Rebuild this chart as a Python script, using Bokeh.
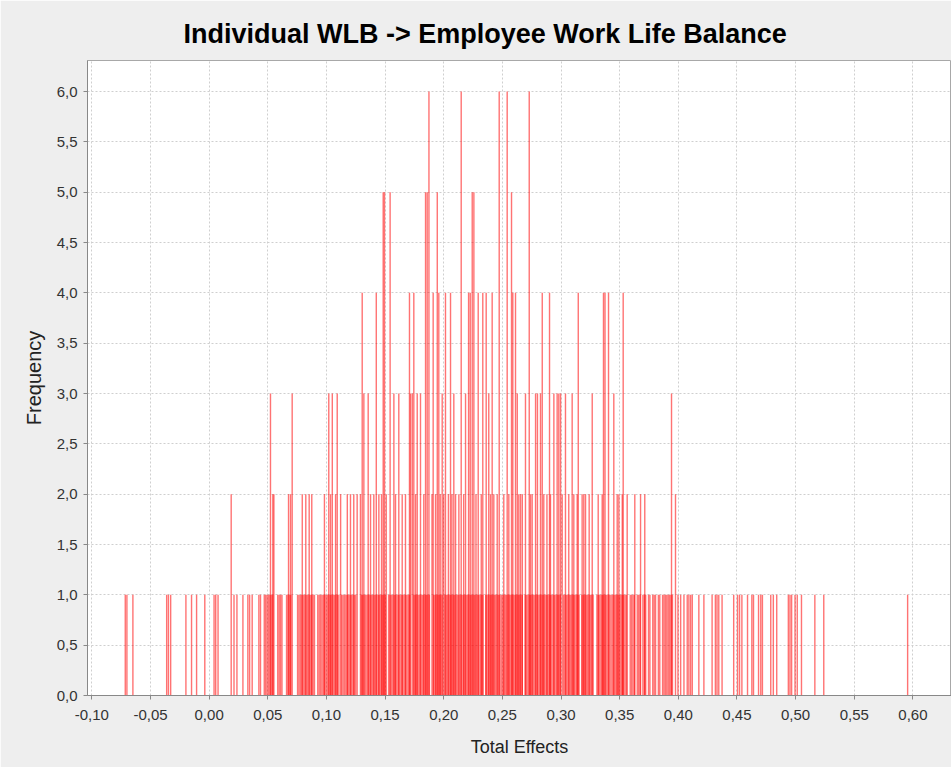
from bokeh.plotting import figure
from bokeh.models import FixedTicker, Range1d, ColumnDataSource
from bokeh.embed import file_html
from bokeh.resources import INLINE

# ---- data ----
title_text = "Individual WLB -> Employee Work Life Balance"
x_label = "Total Effects"
y_label = "Frequency"

x_ticks = [-0.10, -0.05, 0.00, 0.05, 0.10, 0.15, 0.20, 0.25, 0.30, 0.35, 0.40, 0.45, 0.50, 0.55, 0.60]
x_tick_labels = ["-0,10", "-0,05", "0,00", "0,05", "0,10", "0,15", "0,20", "0,25", "0,30", "0,35",
                 "0,40", "0,45", "0,50", "0,55", "0,60"]
y_ticks = [0.0, 0.5, 1.0, 1.5, 2.0, 2.5, 3.0, 3.5, 4.0, 4.5, 5.0, 5.5, 6.0]
y_tick_labels = ["0,0", "0,5", "1,0", "1,5", "2,0", "2,5", "3,0", "3,5", "4,0", "4,5", "5,0", "5,5", "6,0"]

# bin positions with frequency 1
freq1_x = [
    -0.0715, -0.0701, -0.0650, -0.0362, -0.0347, -0.0328, -0.0198, -0.0150, -0.0107, -0.0037,
    0.0042, 0.0056, 0.0076, 0.0212, 0.0237, 0.0288, 0.0330, 0.0345, 0.0367, 0.0424, 0.0438,
    0.0470, 0.0482, 0.0494, 0.0506, 0.0518, 0.0530, 0.0542,
    0.0585, 0.0597, 0.0609, 0.0621, 0.0660, 0.0672, 0.0684, 0.0696,
    0.0754, 0.0766, 0.0778, 0.0790, 0.0802, 0.0814, 0.0826, 0.0838, 0.0850, 0.0862, 0.0874, 0.0886, 0.0898,
    0.0926, 0.0938, 0.0950, 0.0962, 0.0974, 0.0986, 0.0998, 0.1010, 0.1022, 0.1034, 0.1046, 0.1058,
    0.1070, 0.1082, 0.1094, 0.1106, 0.1130, 0.1142, 0.1154, 0.1166, 0.1178, 0.1190, 0.1202, 0.1214,
    0.1226, 0.1238, 0.1250, 0.1298, 0.1310, 0.1322, 0.1334, 0.1346, 0.1358, 0.1370, 0.1382, 0.1394,
    0.1406, 0.1418, 0.1430, 0.1442, 0.1454, 0.1466, 0.1478, 0.1490, 0.1502, 0.1530, 0.1542, 0.1554,
    0.1566, 0.1578, 0.1590, 0.1602, 0.1614, 0.1626, 0.1638, 0.1650, 0.1662, 0.1674, 0.1686, 0.1698,
    0.1710, 0.1746, 0.1758, 0.1770, 0.1782, 0.1794, 0.1806, 0.1818, 0.1830, 0.1842, 0.1854, 0.1866,
    0.1878, 0.1914, 0.1926, 0.1938, 0.1950, 0.1962, 0.1974, 0.1986, 0.2010, 0.2022, 0.2034, 0.2046,
    0.2058, 0.2070, 0.2082, 0.2094, 0.2106, 0.2118, 0.2130, 0.2142, 0.2154, 0.2166, 0.2178, 0.2190,
    0.2202, 0.2214, 0.2226, 0.2238, 0.2250, 0.2262, 0.2274, 0.2286, 0.2298, 0.2310, 0.2322, 0.2334,
    0.2358, 0.2370, 0.2382, 0.2394, 0.2406, 0.2418, 0.2430, 0.2442, 0.2454, 0.2466, 0.2478, 0.2490,
    0.2502, 0.2514, 0.2526, 0.2538, 0.2550, 0.2562, 0.2574, 0.2586, 0.2598, 0.2610, 0.2622, 0.2634,
    0.2646, 0.2658, 0.2670, 0.2694, 0.2706, 0.2718, 0.2730, 0.2742, 0.2754, 0.2766, 0.2778, 0.2790,
    0.2802, 0.2814, 0.2826, 0.2838, 0.2850, 0.2862, 0.2874, 0.2886, 0.2898, 0.2910, 0.2922, 0.2934,
    0.2946, 0.2958, 0.2970, 0.2982, 0.2994, 0.3022, 0.3034, 0.3046, 0.3058, 0.3070, 0.3082, 0.3094,
    0.3106, 0.3118, 0.3130, 0.3142, 0.3154, 0.3178, 0.3190, 0.3202, 0.3214, 0.3226, 0.3238, 0.3250,
    0.3262, 0.3274, 0.3306, 0.3318, 0.3330, 0.3342, 0.3354, 0.3366, 0.3378, 0.3390, 0.3402, 0.3414,
    0.3426, 0.3438, 0.3450, 0.3462, 0.3474, 0.3486, 0.3498, 0.3510, 0.3522, 0.3534, 0.3546, 0.3558,
    0.3590, 0.3602, 0.3614, 0.3626, 0.3650, 0.3662, 0.3674, 0.3698, 0.3710, 0.3722, 0.3746, 0.3758,
    0.3782, 0.3794, 0.3806, 0.3830, 0.3842, 0.3866, 0.3878, 0.3890, 0.3902, 0.3914, 0.3926, 0.3938,
    0.3950, 0.3997, 0.4020, 0.4048, 0.4076, 0.4090, 0.4105, 0.4119, 0.4175, 0.4218, 0.4288, 0.4316,
    0.4330, 0.4345, 0.4373, 0.4472, 0.4505, 0.4522, 0.4542, 0.4590, 0.4627, 0.4641, 0.4684, 0.4703,
    0.4717, 0.4788, 0.4810, 0.4839, 0.4938, 0.4952, 0.4966, 0.4995, 0.5014, 0.5050, 0.5164, 0.5240,
    0.5955,
]
# bin positions with frequency 2
freq2_x = [
    0.0188, 0.0543, 0.0552, 0.0677, 0.0694, 0.0794, 0.0824, 0.0853, 0.0875, 0.0983, 0.1035, 0.1078,
    0.1121, 0.1178, 0.1205, 0.1233, 0.1262, 0.1290, 0.1376, 0.1404, 0.1447, 0.1470, 0.1510, 0.1589,
    0.1646, 0.1674, 0.1760, 0.1830, 0.1900, 0.1930, 0.1970, 0.2000, 0.2040, 0.2070, 0.2101, 0.2129,
    0.2170, 0.2275, 0.2320, 0.2399, 0.2427, 0.2456, 0.2512, 0.2555, 0.2640, 0.2655, 0.2670, 0.2740,
    0.2754, 0.2853, 0.2880, 0.2910, 0.3010, 0.3066, 0.3109, 0.3138, 0.3180, 0.3194, 0.3209, 0.3240,
    0.3317, 0.3351, 0.3479, 0.3493, 0.3522, 0.3564, 0.3629, 0.3678, 0.3714, 0.3976,
]
# bin positions with frequency 3
freq3_x = [
    0.0523, 0.0708, 0.1020, 0.1050, 0.1092, 0.1319, 0.1356, 0.1575, 0.1617, 0.1717, 0.1732, 0.1774,
    0.1802, 0.1987, 0.2086, 0.2186, 0.2384, 0.2627, 0.2697, 0.2783, 0.2799, 0.2825, 0.2939, 0.2967,
    0.2981, 0.2996, 0.3038, 0.3095, 0.3266, 0.3450, 0.3942,
]
# bin positions with frequency 4
freq4_x = [
    0.1305, 0.1425, 0.1708, 0.1745, 0.1910, 0.1958, 0.2015, 0.2058, 0.2212, 0.2226, 0.2294, 0.2333,
    0.2362, 0.2413, 0.2589, 0.2612, 0.2840, 0.2902, 0.3147, 0.3362, 0.3375, 0.3405, 0.3530,
]
# bin positions with frequency 5
freq5_x = [0.1484, 0.1495, 0.1543, 0.1845, 0.1859, 0.1945, 0.2243, 0.2257, 0.2578]
# bin positions with frequency 6
freq6_x = [0.1874, 0.2149, 0.2473, 0.2541, 0.2729]

bin_width = 0.0012

# ---- build source ----
xs, tops = [], []
for count, pos in [(1, freq1_x), (2, freq2_x), (3, freq3_x), (4, freq4_x), (5, freq5_x), (6, freq6_x)]:
    xs.extend(pos)
    tops.extend([count] * len(pos))
src = ColumnDataSource(data=dict(x=xs, top=tops))

p = figure(width=951, height=767, output_backend="svg", toolbar_location=None,
           x_range=Range1d(-0.1037, 0.6329), y_range=Range1d(0, 6.308),
           min_border_left=87, min_border_right=0, min_border_top=60, min_border_bottom=72)

p.background_fill_color = "#ffffff"
p.border_fill_color = "#eeeeee"
p.outline_line_color = "#a8a8a8"
p.outline_line_width = 1

p.vbar(x="x", top="top", bottom=0, width=bin_width, source=src,
       fill_color="#ff0000", fill_alpha=0.55, line_color=None)

# title
p.title.text = title_text
p.title.align = "left"
p.title.offset = 96
p.title.standoff = 23
p.title.text_font = "Liberation Sans"
p.title.text_font_size = "27px"
p.title.text_font_style = "bold"
p.title.text_color = "#000000"

# axes
p.xaxis.ticker = FixedTicker(ticks=x_ticks)
p.yaxis.ticker = FixedTicker(ticks=y_ticks)
p.xaxis.major_label_overrides = dict(zip(x_ticks, x_tick_labels))
p.yaxis.major_label_overrides = dict(zip(y_ticks, y_tick_labels))
p.xaxis.axis_label = x_label
p.yaxis.axis_label = y_label

for ax in (p.xaxis, p.yaxis):
    ax.axis_line_color = "#888888"
    ax.major_tick_line_color = "#888888"
    ax.major_tick_out = 4
    ax.major_tick_in = 0
    ax.minor_tick_line_color = None
    ax.major_label_text_font = "Liberation Sans"
    ax.major_label_text_font_size = "15px"
    ax.major_label_text_color = "#333333"
    ax.axis_label_text_font = "Liberation Sans"
    ax.axis_label_text_font_style = "normal"
    ax.axis_label_text_color = "#222222"

p.xaxis.major_label_standoff = 10
p.yaxis.major_label_standoff = 6
p.xaxis.axis_label_text_font_size = "18px"
p.xaxis.axis_label_standoff = 14
p.yaxis.axis_label_text_font_size = "20px"
p.yaxis.axis_label_standoff = 9

# grid
for g in (p.xgrid, p.ygrid):
    g.grid_line_color = "#cfcfcf"
    g.grid_line_dash = "2 2"
    g.grid_line_width = 1

open("out.html", "w").write(file_html(p, INLINE))
